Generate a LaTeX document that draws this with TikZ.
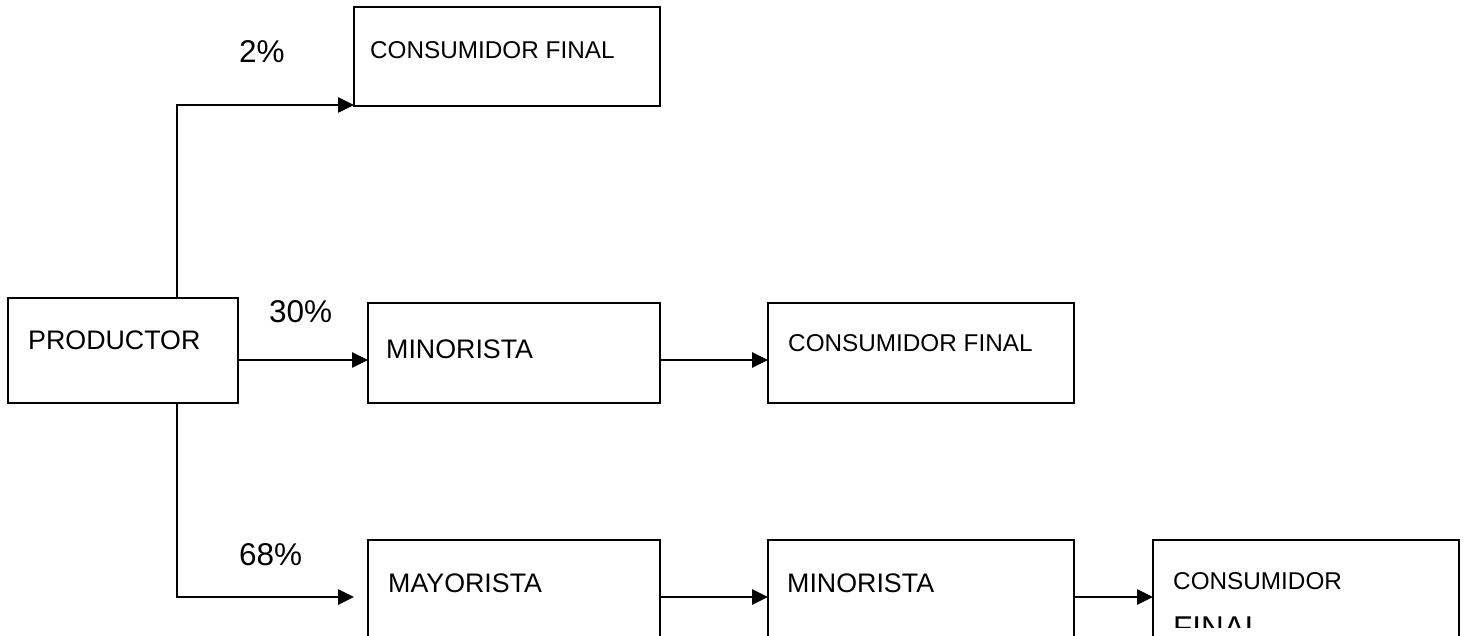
\documentclass[tikz,border=0pt]{standalone}
\usepackage{fontspec}
\setmainfont{Liberation Sans}
\usetikzlibrary{arrows.meta}
\begin{document}
\begin{tikzpicture}[x=1pt,y=-1pt,
 box/.style={draw,line width=2.4pt,rectangle,anchor=north west,inner sep=0pt,outer sep=0pt},
 lbl/.style={anchor=base west,inner sep=0pt,font=\fontsize{24.3}{28}\selectfont},
 big/.style={anchor=base west,inner sep=0pt,font=\fontsize{26.8}{30}\selectfont},
 pct/.style={anchor=base west,inner sep=0pt,font=\fontsize{31.5}{34}\selectfont},
 arr/.style={line width=2.6pt,-{Triangle[length=16pt,width=15pt]}}]
\useasboundingbox (0,0) rectangle (1465,636);
\clip (0,0) rectangle (1465,636);
% boxes
\node[box,minimum width=306pt,minimum height=99pt] (cf1) at (354,7) {};
\node[box,minimum width=230pt,minimum height=105pt] (prod) at (8,298) {};
\node[box,minimum width=292pt,minimum height=100pt] (min1) at (368,303) {};
\node[box,minimum width=306pt,minimum height=100pt] (cf2) at (768,303) {};
\node[box,minimum width=292pt,minimum height=120pt] (may) at (368,540) {};
\node[box,minimum width=306pt,minimum height=120pt] (min2) at (768,540) {};
\node[box,minimum width=306pt,minimum height=120pt] (cf3) at (1153,540) {};
% box texts
\node[lbl] (tcf1) at (370,59) {CONSUMIDOR FINAL};
\node[big] (tprod) at (28,350) {PRODUCTOR};
\node[big] (tmin1) at (386,359) {MINORISTA};
\node[lbl] (tcf2) at (788,352) {CONSUMIDOR FINAL};
\node[big] (tmay) at (388,592) {MAYORISTA};
\node[big] (tmin2) at (787,592) {MINORISTA};
\node[lbl] (tcf3) at (1173,589) {CONSUMIDOR};
\begin{scope}
\clip (1153,600) rectangle (1459,627);
\node[pct] (tfin) at (1173,638) {FINAL};
\end{scope}
% percentages
\node[pct] (p2) at (239,63) {2\%};
\node[pct] (p30) at (269,323) {30\%};
\node[pct] (p68) at (239,565) {68\%};
% connectors
\coordinate (tx) at (177,0);
\coordinate (r2) at (0,360);
\coordinate (r3) at (0,597);
\coordinate (e3) at (354,597);
\draw[arr] (prod.north -| tx) |- ([yshift=1pt]cf1.south west);
\draw[arr] (prod.south -| tx) |- (e3);
\draw[arr] (prod.east |- r2) -- (min1.west |- r2);
\draw[arr] (min1.east |- r2) -- (cf2.west |- r2);
\draw[arr] (may.east |- r3) -- (min2.west |- r3);
\draw[arr] (min2.east |- r3) -- (cf3.west |- r3);
\end{tikzpicture}
\end{document}
